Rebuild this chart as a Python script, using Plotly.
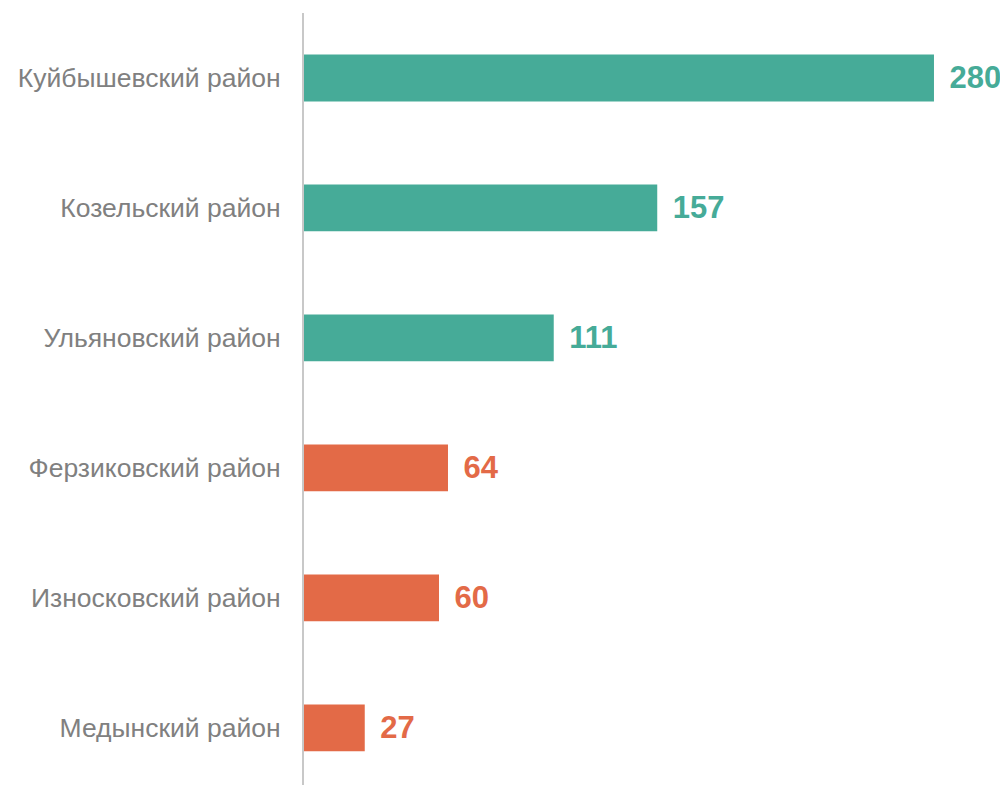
import plotly.graph_objects as go

categories = ["Куйбышевский район", "Козельский район", "Ульяновский район",
              "Ферзиковский район", "Износковский район", "Медынский район"]
values = [280, 157, 111, 64, 60, 27]
colors = ["#46AB98", "#46AB98", "#46AB98", "#E36A47", "#E36A47", "#E36A47"]

fig = go.Figure(go.Bar(
    x=values, y=categories, orientation="h",
    marker=dict(color=colors, line=dict(width=0)),
    width=0.36,
    texttemplate="\u2009\u2009%{x}",
    textposition="outside",
    textfont=dict(family="Liberation Sans, Arial", size=31, color=colors, weight="bold"),
    cliponaxis=False,
))

# page body adds an 8px offset; compensate in margins
fig.update_layout(
    width=1000, height=777,
    margin=dict(l=296, r=0, t=5, b=0, autoexpand=False),
    plot_bgcolor="white", paper_bgcolor="white",
    showlegend=False,
)
fig.update_xaxes(range=[0, 312.9], showgrid=False, zeroline=False, showticklabels=False,
                 showline=False)
fig.update_yaxes(categoryorder="array", categoryarray=categories,
                 range=[5.44, -0.5], autorange=False,
                 showgrid=False, zeroline=False, showline=True, linecolor="#C8C8C8",
                 linewidth=2, ticks="", ticklabelstandoff=16,
                 tickfont=dict(family="Liberation Sans, Arial", size=26.5, color="#808080"))

fig.write_html("out.html")
